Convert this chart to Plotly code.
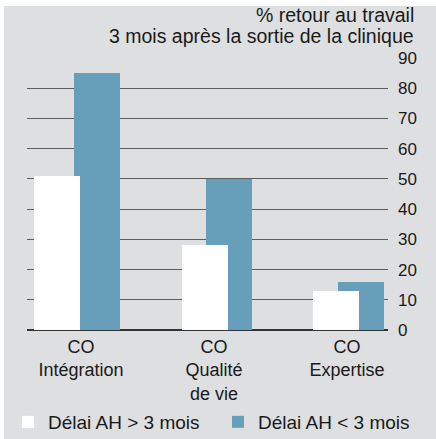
import plotly.graph_objects as go

categories = ["CO<br>Intégration", "CO<br>Qualité<br>de vie", "CO<br>Expertise"]
late_return = [51, 28, 13]      # Délai AH > 3 mois
early_return = [85, 50, 16]     # Délai AH < 3 mois
series_names = ["Délai AH > 3 mois", "Délai AH < 3 mois"]
y_ticks = [0, 10, 20, 30, 40, 50, 60, 70, 80, 90]
title_lines = ["% retour au travail", "3 mois après la sortie de la clinique"]

WIDTH, HEIGHT = 436, 439
L, R, T, B = 27, 48, 58, 109
PW, PH = WIDTH - L - R, HEIGHT - T - B

FONT = "Liberation Sans, Arial, sans-serif"
INK = "#1a1a1a"
BG = "#dedfe1"
BLUE = "#679fba"


def px_x(p):
    return (p - L) / PW


def px_y(p):
    return (HEIGHT - B - p) / PH


x = list(range(len(categories)))

fig = go.Figure()
# blue first so the white bars sit on top of it
fig.add_trace(go.Bar(
    x=x, y=early_return, name=series_names[1],
    marker=dict(color=BLUE, line=dict(width=0)),
    width=0.346, offset=[-0.053, -0.06, -0.068], legend="legend2",
))
fig.add_trace(go.Bar(
    x=x, y=late_return, name=series_names[0],
    marker=dict(color="#ffffff", line=dict(width=0)),
    width=0.346, offset=[-0.353, -0.24, -0.256], legend="legend",
))

# grey card with a thin white border on the top and left
fig.add_shape(type="rect", xref="paper", yref="paper",
              x0=px_x(4), x1=px_x(WIDTH + 2), y0=px_y(HEIGHT + 2), y1=px_y(6),
              fillcolor=BG, line=dict(width=0), layer="below")

for line, yc in zip(title_lines, [15, 36]):
    fig.add_annotation(
        text=line, xref="paper", yref="paper", x=px_x(416), y=px_y(yc),
        xanchor="right", yanchor="middle", showarrow=False,
        font=dict(family=FONT, size=19.5, color=INK),
    )

legend_style = dict(orientation="h", xref="container", yref="container",
                    y=(HEIGHT - 422) / HEIGHT, xanchor="left", yanchor="middle",
                    bgcolor="rgba(0,0,0,0)",
                    font=dict(family=FONT, size=19, color=INK))

fig.update_layout(
    width=WIDTH, height=HEIGHT,
    margin=dict(l=L, r=R, t=T, b=B, autoexpand=False),
    paper_bgcolor="#ffffff", plot_bgcolor="rgba(0,0,0,0)",
    barmode="overlay", bargap=0,
    font=dict(family=FONT, size=19, color=INK),
    showlegend=True,
    legend=dict(x=8 / WIDTH, **legend_style),
    legend2=dict(x=218 / WIDTH, **legend_style),
)
fig.update_xaxes(
    range=[-0.406, 2.308], tickvals=x, ticktext=categories,
    showgrid=False, showline=False, zeroline=False, ticks="", automargin=False,
    ticklabelstandoff=4,
    tickfont=dict(family=FONT, size=18, color=INK),
)
fig.update_yaxes(
    range=[0, 90], tickvals=y_ticks, side="right",
    showgrid=True, gridcolor="#5e5e5e", gridwidth=1,
    zeroline=True, zerolinecolor="#333333", zerolinewidth=1.5,
    showline=False, ticks="", ticklabelstandoff=9, automargin=False,
    tickfont=dict(family=FONT, size=17, color=INK),
)

# drop the default 8px body margin so the figure sits at the page origin
fig.write_html("out.html", config={"displayModeBar": False},
               post_script="document.body.style.margin = '0';")
